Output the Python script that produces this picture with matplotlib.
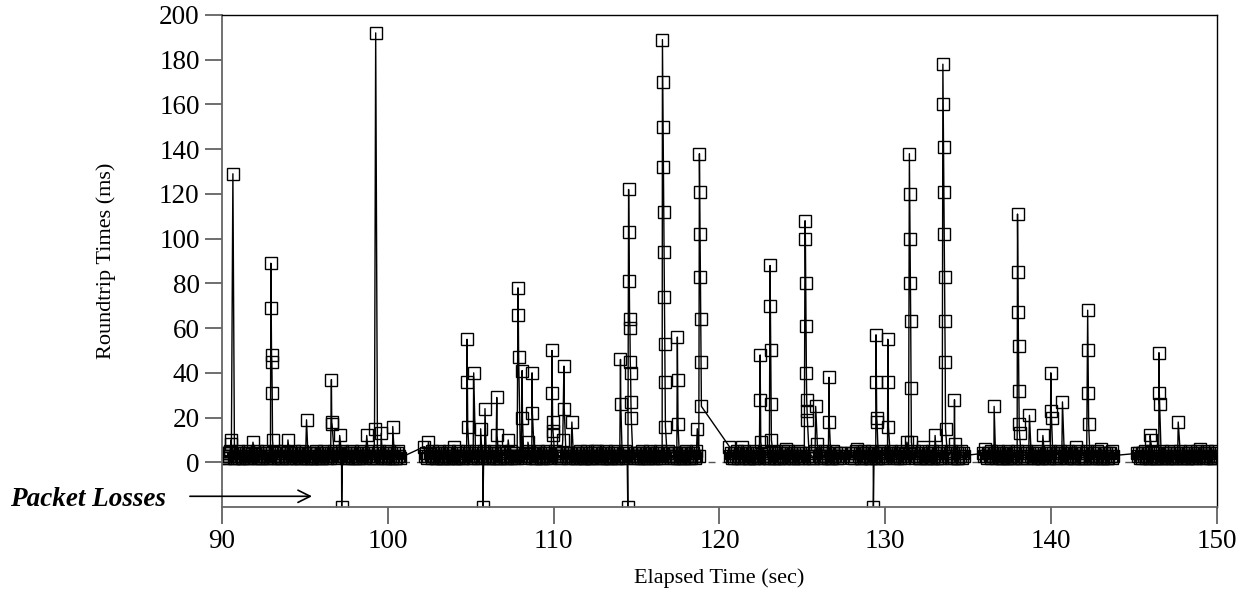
import numpy as np
import matplotlib
matplotlib.use('Agg')
import matplotlib.pyplot as plt

plt.rcParams['font.family'] = 'serif'
plt.rcParams['font.serif'] = ['Liberation Serif', 'DejaVu Serif']

# --- data ---
# baseline RTT bursts: (start sec, end sec, one digit per probe in ms)
cluster_start = [90.1, 102.2, 120.6, 127.9, 135.9, 145.2]
cluster_end = [100.74, 118.9, 127.37, 134.75, 143.74, 150.5]
cluster_rtt = [
    "3423244352334223453243224334252343324423523432243345234233422435324332245334233244325342334224533423324432"
    "2432534233422453342332443253423342245334233244325342334224533423324432534233422453342332443253423342243532",
    "7342324435233422345324322433425234332442352343224334523423342243532433224533423324432534233422453342332443"
    "2534233422453342332443253423342245334233244325342334224533423324432534233422434232443523342234532432243342"
    "5234332442352343224334523423342243532433224533423324432534233422453342332443253423342245334233244325342334"
    "22453342332443253423342",
    "73423244352334223453243224334252343324423523432243345234233422435324"
    "42352343224334523423342243532433224533423324432534233422453342332443",
    "43242354233422435324334224533423324432534233422453342332443253423342"
    "34232443523342234532432243342523433244235234322433452342334224353243",
    "4342324435233422345324322433425234332442352343224334523423342243532433224533423"
    "2453342332443253423342245334233244325342334224533423324432534233422434232443523",
    "434232443523342234532432243342523433244235234322433452"
    "342334224353243322453342332443253423342245334233244325",
]

# spikes: queued probes arriving together, 20 ms apart
spike_time = [90.55, 90.66, 91.87, 92.95, 93.98, 95.10, 96.60, 97.10, 98.73, 99.20,
              99.27, 99.60, 100.30,
              102.45, 104.0, 104.78, 105.18, 105.60, 105.86, 106.57, 107.26, 107.85,
              108.10, 108.45, 108.70, 109.90, 110.55, 110.62, 111.10, 112.5, 114.03,
              114.52, 116.56, 117.46, 118.66, 118.79,
              121.35, 122.45, 123.05, 124.0, 125.16, 125.80, 125.90, 126.60,
              128.3, 129.44, 130.15, 131.30, 131.45, 132.3, 133.0, 133.47, 134.17,
              136.0, 136.56, 137.97, 138.69, 139.50, 139.98, 140.68, 141.5, 142.20, 143.0,
              145.97, 146.50, 147.66, 149.0]
spike_rtt = [[10, 8], [129], [9], [89, 69, 48, 45, 31, 10], [10], [19], [37, 18, 17], [12],
             [12], [15], [192], [13], [16],
             [9], [7], [55, 36, 16], [40], [15], [24], [29, 12], [10], [78, 66, 47],
             [41, 20], [9], [40, 22], [50, 31, 18, 14, 12], [10], [43, 24], [18], [5],
             [46, 26],
             [122, 103, 81, 64, 60, 45, 40, 27, 20],
             [189, 170, 150, 132, 112, 94, 74, 53, 36, 16],
             [56, 37, 17], [15], [138, 121, 102, 83, 64, 45, 25],
             [7], [48, 28, 9], [88, 70, 50, 26, 10], [6],
             [108, 100, 80, 61, 40, 28, 23, 19], [25], [8], [38, 18],
             [6], [57, 36, 20, 18], [55, 36, 16], [9], [138, 120, 100, 80, 63, 33, 9],
             [7], [12], [178, 160, 141, 121, 102, 83, 63, 45, 15], [28, 8],
             [6], [25], [111, 85, 67, 52, 32, 17, 13], [21], [12], [40, 23, 20], [27],
             [7], [68, 50, 31, 17], [6],
             [12, 10], [49, 31, 26], [18], [6]]

loss_time = [97.22, 105.74, 114.47, 129.28]
loss_level = -20

# --- build one time series ---
tb, vb = [], []
for t0, t1, s in zip(cluster_start, cluster_end, cluster_rtt):
    vals = [int(c) for c in s]
    tb.extend(np.linspace(t0, t1, len(vals)))
    vb.extend(vals)
tb = np.array(tb)
vb = np.array(vb, dtype=float)

keep = np.ones(len(tb), dtype=bool)
ts, vs = [], []
for t, vals in zip(spike_time, spike_rtt):
    for k, v in enumerate(vals):
        ts.append(t + 0.02 * k)
        vs.append(v)
    keep &= ~((tb > t - 0.01) & (tb < t + 0.02 * len(vals) + 0.05))

t_all = np.concatenate([tb[keep], ts, loss_time])
v_all = np.concatenate([vb[keep], vs, [loss_level] * len(loss_time)])
order = np.argsort(t_all, kind='stable')
t_all = t_all[order]
v_all = v_all[order]

# --- figure ---
fig = plt.figure(figsize=(12.49, 6.07), dpi=100)
ax = fig.add_axes([0.1777, 0.1647, 0.7967, 0.8106])

ax.axhline(0, color='#555555', lw=1, ls=(0, (5, 5)), zorder=1)
ax.plot(t_all, v_all, color='black', lw=1.0, marker='s', ms=8.5, mfc='none',
        mec='black', mew=1.0, zorder=2)

ax.set_xlim(90, 150)
ax.set_ylim(-20, 200)
ax.set_xticks(np.arange(90, 151, 10))
ax.set_yticks(np.arange(0, 201, 20))
ax.tick_params(direction='out', length=12, width=1.2, labelsize=19.5, colors='#555555',
               labelcolor='black')
ax.tick_params(axis='y', pad=4)
ax.tick_params(axis='x', pad=4)
for side in ['left', 'bottom']:
    ax.spines[side].set_color('#666666')
    ax.spines[side].set_linewidth(1.3)
for side in ['top', 'right']:
    ax.spines[side].set_color('black')
    ax.spines[side].set_linewidth(1.0)

ax.set_ylabel('Roundtrip Times (ms)', fontsize=16, labelpad=31)
ax.set_xlabel('Elapsed Time (sec)', fontsize=16, labelpad=10)

ax.annotate('', xy=(95.6, -15.2), xytext=(87.9, -15.2),
            arrowprops=dict(arrowstyle='->', lw=1.2, color='black', mutation_scale=22),
            annotation_clip=False)
fig.text(10 / 1249, 1 - 499 / 607, 'Packet Losses', fontsize=19.5, fontweight='bold',
         fontstyle='italic', va='center', ha='left')

fig.savefig('out.png', dpi=100)
